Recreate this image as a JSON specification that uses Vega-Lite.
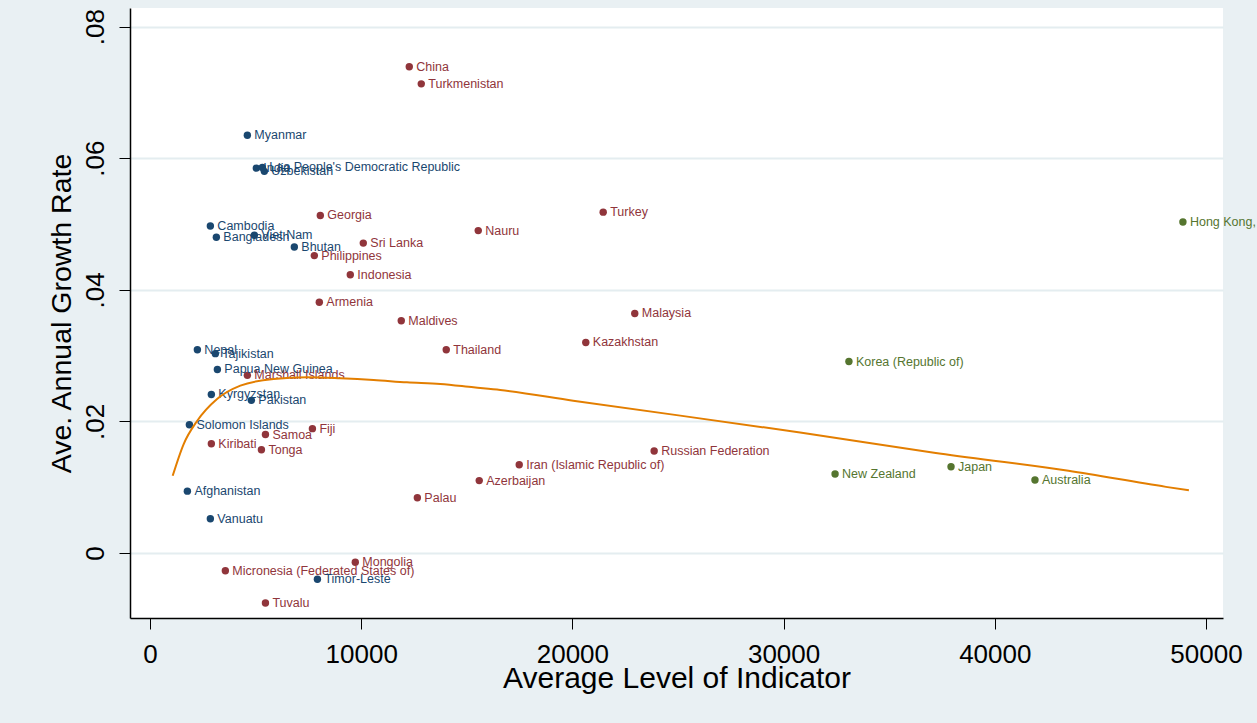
{
  "$schema": "https://vega.github.io/schema/vega-lite/v6.json",
  "width": 1093,
  "height": 610,
  "autosize": {"type": "none"},
  "padding": {"left": 130, "top": 8, "right": 34, "bottom": 105},
  "background": "#e9f0f3",
  "config": {
    "view": {"fill": "white", "stroke": null},
    "font": "Liberation Sans"
  },
  "datasets": {
    "pts": [
      {"country": "China", "x": 12276, "y": 0.0739, "group": "mid"},
      {"country": "Turkmenistan", "x": 12844, "y": 0.0713, "group": "mid"},
      {"country": "Myanmar", "x": 4610, "y": 0.0635, "group": "low"},
      {"country": "India", "x": 5035, "y": 0.0585, "group": "low"},
      {"country": "Lao People's Democratic Republic", "x": 5320, "y": 0.0586, "group": "low"},
      {"country": "Uzbekistan", "x": 5414, "y": 0.058, "group": "low"},
      {"country": "Georgia", "x": 8064, "y": 0.0513, "group": "mid"},
      {"country": "Turkey", "x": 21458, "y": 0.0518, "group": "mid"},
      {"country": "Hong Kong, China (SAR)", "x": 48907, "y": 0.0503, "group": "high"},
      {"country": "Cambodia", "x": 2858, "y": 0.0497, "group": "low"},
      {"country": "Nauru", "x": 15542, "y": 0.049, "group": "mid"},
      {"country": "Bangladesh", "x": 3142, "y": 0.048, "group": "low"},
      {"country": "Viet Nam", "x": 4941, "y": 0.0483, "group": "low"},
      {"country": "Sri Lanka", "x": 10099, "y": 0.0471, "group": "mid"},
      {"country": "Bhutan", "x": 6834, "y": 0.0465, "group": "low"},
      {"country": "Philippines", "x": 7781, "y": 0.0452, "group": "mid"},
      {"country": "Indonesia", "x": 9484, "y": 0.0423, "group": "mid"},
      {"country": "Armenia", "x": 8017, "y": 0.0381, "group": "mid"},
      {"country": "Maldives", "x": 11897, "y": 0.0353, "group": "mid"},
      {"country": "Malaysia", "x": 22953, "y": 0.0364, "group": "mid"},
      {"country": "Kazakhstan", "x": 20634, "y": 0.032, "group": "mid"},
      {"country": "Thailand", "x": 14027, "y": 0.0309, "group": "mid"},
      {"country": "Nepal", "x": 2243, "y": 0.0309, "group": "low"},
      {"country": "Tajikistan", "x": 3095, "y": 0.0303, "group": "low"},
      {"country": "Korea (Republic of)", "x": 33093, "y": 0.0291, "group": "high"},
      {"country": "Papua New Guinea", "x": 3190, "y": 0.0279, "group": "low"},
      {"country": "Marshall Islands", "x": 4610, "y": 0.027, "group": "mid"},
      {"country": "Kyrgyzstan", "x": 2905, "y": 0.0241, "group": "low"},
      {"country": "Pakistan", "x": 4799, "y": 0.0232, "group": "low"},
      {"country": "Solomon Islands", "x": 1865, "y": 0.0195, "group": "low"},
      {"country": "Fiji", "x": 7690, "y": 0.0189, "group": "mid"},
      {"country": "Samoa", "x": 5466, "y": 0.018, "group": "mid"},
      {"country": "Kiribati", "x": 2905, "y": 0.0166, "group": "mid"},
      {"country": "Tonga", "x": 5276, "y": 0.0157, "group": "mid"},
      {"country": "Russian Federation", "x": 23871, "y": 0.0155, "group": "mid"},
      {"country": "Iran (Islamic Republic of)", "x": 17482, "y": 0.0134, "group": "mid"},
      {"country": "Japan", "x": 37927, "y": 0.0131, "group": "high"},
      {"country": "New Zealand", "x": 32437, "y": 0.012, "group": "high"},
      {"country": "Azerbaijan", "x": 15589, "y": 0.011, "group": "mid"},
      {"country": "Australia", "x": 41902, "y": 0.0111, "group": "high"},
      {"country": "Afghanistan", "x": 1770, "y": 0.0094, "group": "low"},
      {"country": "Palau", "x": 12659, "y": 0.0084, "group": "mid"},
      {"country": "Vanuatu", "x": 2858, "y": 0.0052, "group": "low"},
      {"country": "Mongolia", "x": 9720, "y": -0.0014, "group": "mid"},
      {"country": "Micronesia (Federated States of)", "x": 3568, "y": -0.0027, "group": "mid"},
      {"country": "Timor-Leste", "x": 7927, "y": -0.004, "group": "low"},
      {"country": "Tuvalu", "x": 5466, "y": -0.0076, "group": "mid"}
    ],
    "fit": [
      {"x": 1074, "y": 0.01173},
      {"x": 1595, "y": 0.01656},
      {"x": 2229, "y": 0.02006},
      {"x": 3176, "y": 0.02341},
      {"x": 4278, "y": 0.02543},
      {"x": 5854, "y": 0.02645},
      {"x": 7435, "y": 0.0267},
      {"x": 9011, "y": 0.02655},
      {"x": 10587, "y": 0.0263},
      {"x": 12167, "y": 0.02594},
      {"x": 13743, "y": 0.02569},
      {"x": 15319, "y": 0.02518},
      {"x": 16583, "y": 0.02478},
      {"x": 20038, "y": 0.02315},
      {"x": 30781, "y": 0.01832},
      {"x": 37123, "y": 0.01523},
      {"x": 43488, "y": 0.01249},
      {"x": 48102, "y": 0.01005},
      {"x": 49190, "y": 0.00953}
    ]
  },
  "encoding": {
    "x": {
      "field": "x",
      "type": "quantitative",
      "scale": {"domain": [-947, 50805], "nice": false, "zero": false},
      "axis": {
        "values": [0, 10000, 20000, 30000, 40000, 50000],
        "format": "d",
        "grid": false,
        "labelFontSize": 26,
        "labelColor": "black",
        "labelPadding": 12,
        "labelOverlap": false,
        "labelFlush": false,
        "tickSize": 11,
        "tickColor": "black",
        "domainColor": "black",
        "domainWidth": 1.5,
        "title": "Average Level of Indicator",
        "titleFontSize": 30,
        "titleFontWeight": "normal",
        "titleColor": "black",
        "titlePadding": -4
      }
    },
    "y": {
      "field": "y",
      "type": "quantitative",
      "scale": {"domain": [-0.00988, 0.08283], "nice": false, "zero": false},
      "axis": {
        "values": [0, 0.02, 0.04, 0.06, 0.08],
        "labelExpr": "datum.value === 0 ? '0' : replace(format(datum.value, '.2f'), '0.', '.')",
        "grid": true,
        "gridColor": "#e4edf0",
        "gridWidth": 2,
        "labelFontSize": 26,
        "labelColor": "black",
        "labelAngle": 270,
        "labelAlign": "center",
        "labelBaseline": "alphabetic",
        "labelPadding": 16,
        "labelOverlap": false,
        "labelFlush": false,
        "tickSize": 11,
        "tickColor": "black",
        "domainColor": "black",
        "domainWidth": 1.5,
        "title": "Ave. Annual Growth Rate",
        "titleFontSize": 28.5,
        "titleFontWeight": "normal",
        "titleColor": "black",
        "titlePadding": 6
      }
    }
  },
  "layer": [
    {
      "data": {"name": "pts"},
      "mark": {"type": "circle", "size": 55, "opacity": 1},
      "encoding": {
        "color": {
          "field": "group",
          "type": "nominal",
          "scale": {"domain": ["low", "mid", "high"], "range": ["#1a476f", "#90353b", "#55752f"]},
          "legend": null
        }
      }
    },
    {
      "data": {"name": "pts"},
      "mark": {"type": "text", "align": "left", "baseline": "middle", "dx": 7, "fontSize": 12.5},
      "encoding": {
        "text": {"field": "country", "type": "nominal"},
        "color": {
          "field": "group",
          "type": "nominal",
          "scale": {"domain": ["low", "mid", "high"], "range": ["#1a476f", "#90353b", "#55752f"]},
          "legend": null
        }
      }
    },
    {
      "data": {"name": "fit"},
      "mark": {"type": "line", "color": "#e37e00", "strokeWidth": 2, "interpolate": "monotone"},
      "encoding": {}
    }
  ]
}
